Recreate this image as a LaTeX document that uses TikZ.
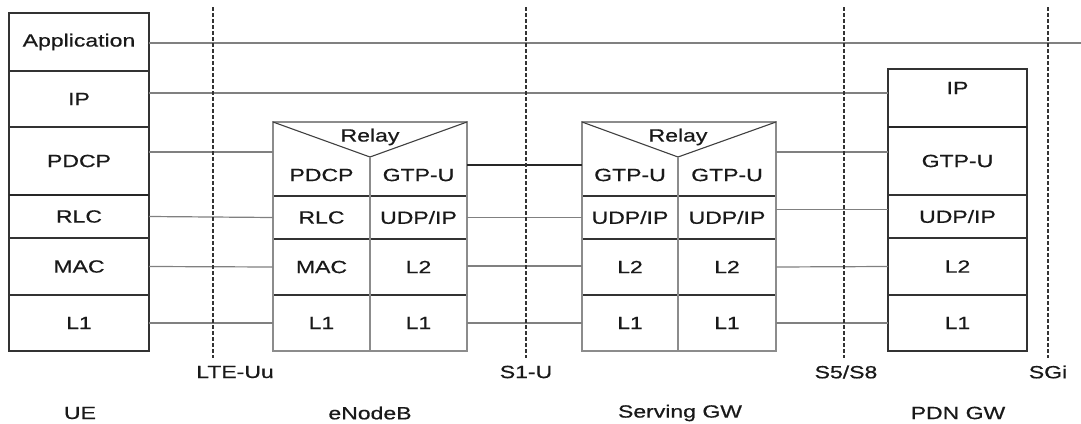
\documentclass[tikz,border=0pt]{standalone}
\usepackage{fontspec}
\setmainfont{Liberation Sans}[FakeStretch=1.3,FakeBold=0.6]
\begin{document}
\begin{tikzpicture}[x=1pt,y=-1pt,
  every node/.style={font=\fontsize{17.7pt}{20pt}\selectfont, text=black!90},
  cell/.style={draw=black!80, line width=1.2pt, inner sep=0pt, outer sep=0pt, anchor=north west},
  outerbox/.style={draw=black!45, line width=2pt, inner sep=0pt, outer sep=0pt, anchor=north west},
  txt/.style={inner sep=0pt},
  conn/.style={draw=black!50, line width=1.2pt},
  darkconn/.style={draw=black!85, line width=1.2pt},
  iface/.style={draw=black!80, line width=1.3pt, dash pattern=on 4pt off 2pt},
  relayline/.style={draw=black!75, line width=1.1pt},
  divider/.style={draw=black!45, line width=2pt},
  thickrule/.style={draw=black!85, line width=2.2pt}]
\useasboundingbox (0,0) rectangle (1081,423);

% ---------- UE stack ----------
\node[cell, minimum width=140pt, minimum height=58pt] (ueApp)  at (9,13)  {Application};
\node[cell, minimum width=140pt, minimum height=56pt] (ueIP)   at (9,71)  {IP};
\node[cell, minimum width=140pt, minimum height=68pt] (uePDCP) at (9,127) {PDCP};
\node[cell, minimum width=140pt, minimum height=43pt] (ueRLC)  at (9,195) {RLC};
\node[cell, minimum width=140pt, minimum height=57pt] (ueMAC)  at (9,238) {MAC};
\node[cell, minimum width=140pt, minimum height=56pt] (ueL1)   at (9,295) {L1};
\draw[thickrule] (ueRLC.north west) -- (ueRLC.north east);

% ---------- eNodeB ----------
\node[cell, minimum width=97pt, minimum height=43pt] (enbRLC) at (273,196) {RLC};
\node[cell, minimum width=97pt, minimum height=43pt] (enbUDP) at (370,196) {UDP/IP};
\node[cell, minimum width=97pt, minimum height=56pt] (enbMAC) at (273,239) {MAC};
\node[cell, minimum width=97pt, minimum height=56pt] (enbL2)  at (370,239) {L2};
\node[cell, minimum width=97pt, minimum height=56pt] (enbL1a) at (273,295) {L1};
\node[cell, minimum width=97pt, minimum height=56pt] (enbL1b) at (370,295) {L1};
\node[txt] (enbPDCP) at (321.5,175) {PDCP};
\node[txt] (enbGTP)  at (418.5,175) {GTP-U};
\node[outerbox, minimum width=194pt, minimum height=229pt] (enb) at (273,122) {};
\coordinate (enbApex) at (370,157);
\draw[relayline] (enb.north west) -- (enbApex) -- (enb.north east);
\draw[divider] (enbApex) -- (enbApex |- enb.south);
\node[txt] (enbRelay) at (370,137) {Relay};

% ---------- Serving GW ----------
\node[cell, minimum width=96pt, minimum height=43pt] (sgwUDPa) at (582,196) {UDP/IP};
\node[cell, minimum width=98pt, minimum height=43pt] (sgwUDPb) at (678,196) {UDP/IP};
\node[cell, minimum width=96pt, minimum height=56pt] (sgwL2a)  at (582,239) {L2};
\node[cell, minimum width=98pt, minimum height=56pt] (sgwL2b)  at (678,239) {L2};
\node[cell, minimum width=96pt, minimum height=56pt] (sgwL1a)  at (582,295) {L1};
\node[cell, minimum width=98pt, minimum height=56pt] (sgwL1b)  at (678,295) {L1};
\node[txt] (sgwGTPa) at (630,175) {GTP-U};
\node[txt] (sgwGTPb) at (727,175) {GTP-U};
\node[outerbox, minimum width=194pt, minimum height=229pt] (sgw) at (582,122) {};
\coordinate (sgwApex) at (678,157);
\draw[relayline] (sgw.north west) -- (sgwApex) -- (sgw.north east);
\draw[divider] (sgwApex) -- (sgwApex |- sgw.south);
\node[txt] (sgwRelay) at (678,137) {Relay};

% ---------- PDN GW ----------
\node[cell, minimum width=139pt, minimum height=58pt] (pdnIP)  at (888,69)  {};
\node[txt] (pdnIPtext) at (957.5,88) {IP};
\node[cell, minimum width=139pt, minimum height=68pt] (pdnGTP) at (888,127) {GTP-U};
\node[cell, minimum width=139pt, minimum height=43pt] (pdnUDP) at (888,195) {UDP/IP};
\node[cell, minimum width=139pt, minimum height=57pt] (pdnL2)  at (888,238) {L2};
\node[cell, minimum width=139pt, minimum height=56pt] (pdnL1)  at (888,295) {L1};
\draw[thickrule] (pdnGTP.north west) -- (pdnGTP.north east);

% ---------- peer connectors ----------
\coordinate (appEnd) at (1081,43);
\draw[conn] (ueApp.east |- appEnd) -- (appEnd);
\draw[conn] ([yshift=6pt]ueIP.east) -- ([yshift=6pt]ueIP.east -| pdnIP.west);
\draw[conn] ([yshift=9pt]uePDCP.east) -- ([yshift=9pt]uePDCP.east -| enb.west);
\draw[conn] (ueRLC.east) -- (enbRLC.west);
\draw[conn] (ueMAC.east) -- (enbMAC.west);
\draw[conn] (ueL1.east) -- (enbL1a.west);

\draw[darkconn] ([yshift=10pt]enbGTP.east -| enb.east) -- ([yshift=10pt]enbGTP.east -| sgw.west);
\draw[conn] (enbUDP.east) -- (sgwUDPa.west);
\draw[conn] ([yshift=1pt]enbL2.east) -- ([yshift=1pt]sgwL2a.west);
\draw[conn] (enbL1b.east) -- (sgwL1a.west);

\draw[conn] ([yshift=9pt]pdnGTP.west -| sgw.east) -- ([yshift=9pt]pdnGTP.west);
\draw[conn] ([yshift=7pt]pdnUDP.west -| sgw.east) -- ([yshift=7pt]pdnUDP.west);
\draw[conn] (sgwL2b.east) -- (pdnL2.west);
\draw[conn] (sgwL1b.east) -- (pdnL1.west);

% ---------- interfaces ----------
\coordinate (uuTop) at (213,7);   \coordinate (uuBot) at (213,358);
\coordinate (s1Top) at (526,7);   \coordinate (s1Bot) at (526,358);
\coordinate (s5Top) at (844,7);   \coordinate (s5Bot) at (844,358);
\coordinate (sgiTop) at (1048,7); \coordinate (sgiBot) at (1048,358);
\draw[iface] (uuTop) -- (uuBot);
\draw[iface] (s1Top) -- (s1Bot);
\draw[iface] (s5Top) -- (s5Bot);
\draw[iface] (sgiTop) -- (sgiBot);

\node[txt] (lblUu)  at (235,372)  {LTE-Uu};
\node[txt] (lblS1)  at (526,372)  {S1-U};
\node[txt] (lblS5)  at (846,372)  {S5/S8};
\node[txt] (lblSGi) at (1048,372) {SGi};

\node[txt] (lblUE)  at (80,413)  {UE};
\node[txt] (lblENB) at (370,413) {eNodeB};
\node[txt] (lblSGW) at (680,413) {Serving GW};
\node[txt] (lblPDN) at (958,413) {PDN GW};
\end{tikzpicture}
\end{document}
